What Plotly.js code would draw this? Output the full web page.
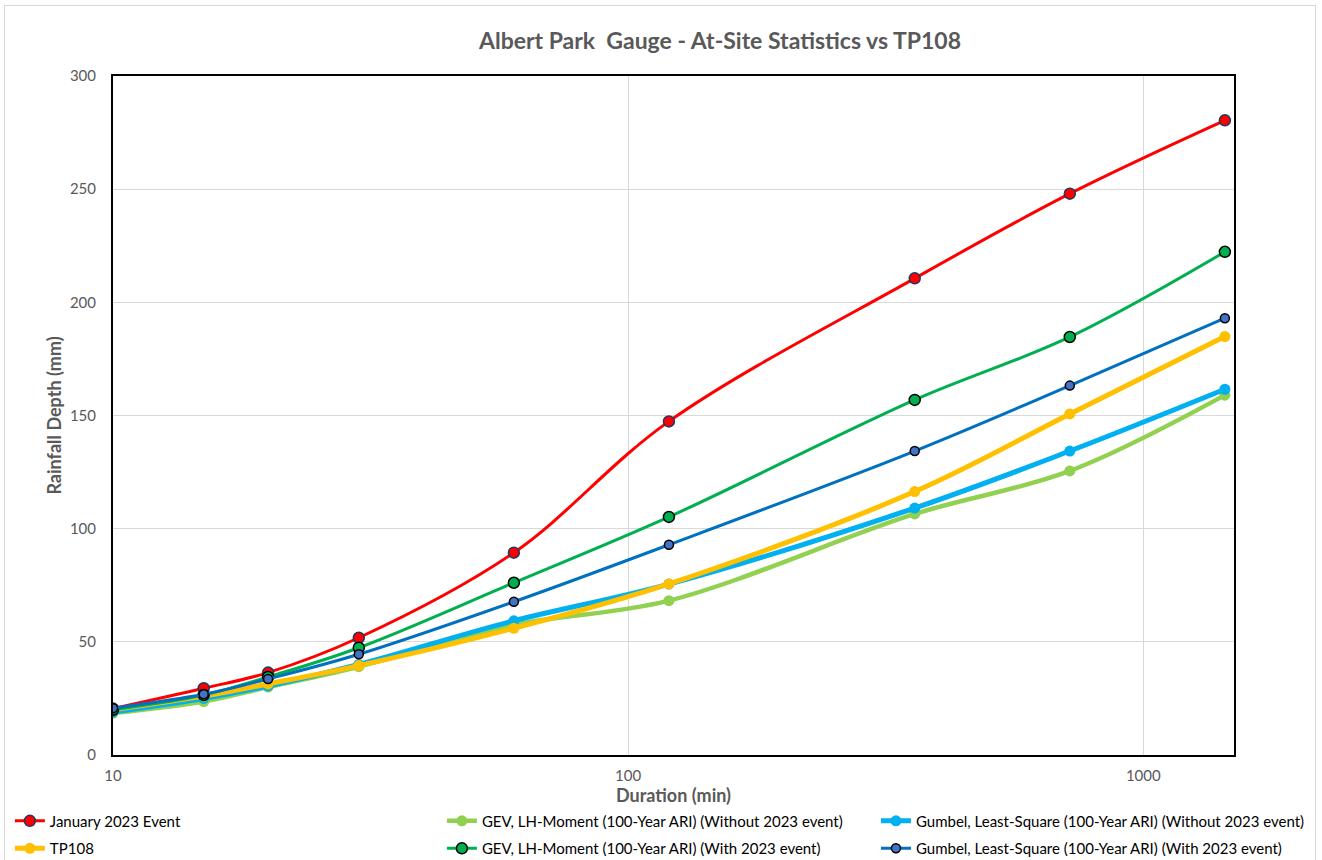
<!DOCTYPE html>
<html>
<head>
<meta charset="utf-8">
<script src="https://cdn.plot.ly/plotly-3.0.1.min.js"></script>
<style>
  html, body { margin: 0; padding: 0; background: #fff; }
  #wrap { position: relative; width: 1322px; height: 860px; }
  #frame { position: absolute; left: 4px; top: 5px; width: 1312px; height: 860px; border: 1px solid #D9D9D9; box-sizing: border-box; pointer-events: none; }
  #chart { width: 1322px; height: 860px; }
</style>
</head>
<body>
<div id="wrap">
  <div id="chart"></div>
  <div id="frame"></div>
</div>
<script>
// Durations (min)
const durations = [10, 15, 20, 30, 60, 120, 360, 720, 1440];

// Series values (mm)
const jan2023 = [20.5, 29.5, 36.4, 51.8, 89.4, 147.4, 210.6, 248.0, 280.4];
const tp108 = [20.0, 26.0, 31.4, 39.5, 56.0, 75.6, 116.4, 150.7, 184.9];
const gevWithout = [18.5, 23.6, 30.0, 39.0, 57.5, 68.2, 106.5, 125.5, 159.0];
const gevWith = [20.0, 26.5, 34.5, 47.4, 76.1, 105.2, 156.9, 184.7, 222.3];
const gumWithout = [19.0, 25.0, 30.5, 40.0, 59.3, 75.5, 109.1, 134.3, 161.6];
const gumWith = [20.7, 26.8, 33.6, 44.5, 67.7, 92.9, 134.3, 163.2, 193.0];

// Tick labels
const xTickVals = [10, 100, 1000];
const xTickText = ['10', '100', '1000'];
const yTickVals = [0, 50, 100, 150, 200, 250, 300];

const names = {
  jan: 'January 2023 Event',
  tp: 'TP108',
  gevWo: 'GEV, LH-Moment (100-Year ARI) (Without 2023 event)',
  gevW: 'GEV, LH-Moment (100-Year ARI) (With 2023 event)',
  gumWo: 'Gumbel, Least-Square (100-Year ARI) (Without 2023 event)',
  gumW: 'Gumbel, Least-Square (100-Year ARI) (With 2023 event)'
};

const FONT = 'Lato, "Open Sans", sans-serif';

function tr(y, name, color, width, msize, mline, mfill, legend, rank) {
  return {
    x: durations, y: y, name: name, type: 'scatter', mode: 'lines+markers',
    line: { color: color, width: width, shape: 'spline', smoothing: 1 },
    marker: { size: msize, color: mfill || color, line: mline ? { color: mline, width: 1.5 } : { width: 0 } },
    legend: legend, legendrank: rank, legendgroup: name
  };
}

const data = [
  tr(gevWithout, names.gevWo, '#92D050', 4.5, 11, null, null, 'legend2', 1),
  tr(gumWithout, names.gumWo, '#00B0F0', 5, 11, null, null, 'legend3', 1),
  tr(tp108, names.tp, '#FFC000', 5, 11, null, null, 'legend', 2),
  tr(jan2023, names.jan, '#FF0000', 3, 11, '#1F3864', '#FF0000', 'legend', 1),
  tr(gevWith, names.gevW, '#00B050', 3, 11, '#000000', '#00B050', 'legend2', 2),
  tr(gumWith, names.gumW, '#0070C0', 3, 9, '#000000', '#4472C4', 'legend3', 2)
];

const legendBase = {
  orientation: 'v', yanchor: 'top', xanchor: 'left', y: -0.073,
  font: { family: FONT, size: 15, color: '#000000' },
  bgcolor: 'rgba(0,0,0,0)', tracegroupgap: 5, itemwidth: 30
};

const layout = {
  width: 1322, height: 860,
  margin: { l: 113, r: 88, t: 76, b: 105, autoexpand: false },
  paper_bgcolor: '#FFFFFF', plot_bgcolor: '#FFFFFF',
  font: { family: FONT, color: '#595959' },
  title: {
    text: '<b>Albert Park\u00a0 Gauge - At-Site Statistics vs TP108</b>',
    font: { size: 23, color: '#595959', family: FONT },
    x: 720 / 1322, xref: 'container', xanchor: 'center',
    y: 1 - 41 / 860, yref: 'container', yanchor: 'middle'
  },
  xaxis: {
    type: 'log', range: [1, Math.log10(1500)],
    tickvals: xTickVals, ticktext: xTickText,
    showgrid: true, gridcolor: '#D9D9D9', gridwidth: 1,
    showline: true, linecolor: '#000000', linewidth: 2, mirror: true,
    ticks: '', zeroline: false, ticklabelstandoff: 6,
    tickfont: { size: 15, color: '#595959' },
    title: { text: '<b>Duration (min)</b>', font: { size: 18, color: '#595959' }, standoff: 0 }
  },
  yaxis: {
    range: [0, 300], tickvals: yTickVals,
    showgrid: true, gridcolor: '#D9D9D9', gridwidth: 1,
    showline: true, linecolor: '#000000', linewidth: 2, mirror: true,
    ticks: '', zeroline: false, ticklabelstandoff: 12,
    tickfont: { size: 15, color: '#595959' },
    title: { text: '<b>Rainfall Depth (mm)</b>', font: { size: 18, color: '#595959' }, standoff: 4 }
  },
  legend: Object.assign({}, legendBase, { x: -0.092 }),
  legend2: Object.assign({}, legendBase, { x: 0.2934 }),
  legend3: Object.assign({}, legendBase, { x: 0.6806 }),
  showlegend: true
};

Plotly.newPlot('chart', data, layout, { displayModeBar: false, staticPlot: true });
</script>
</body>
</html>
